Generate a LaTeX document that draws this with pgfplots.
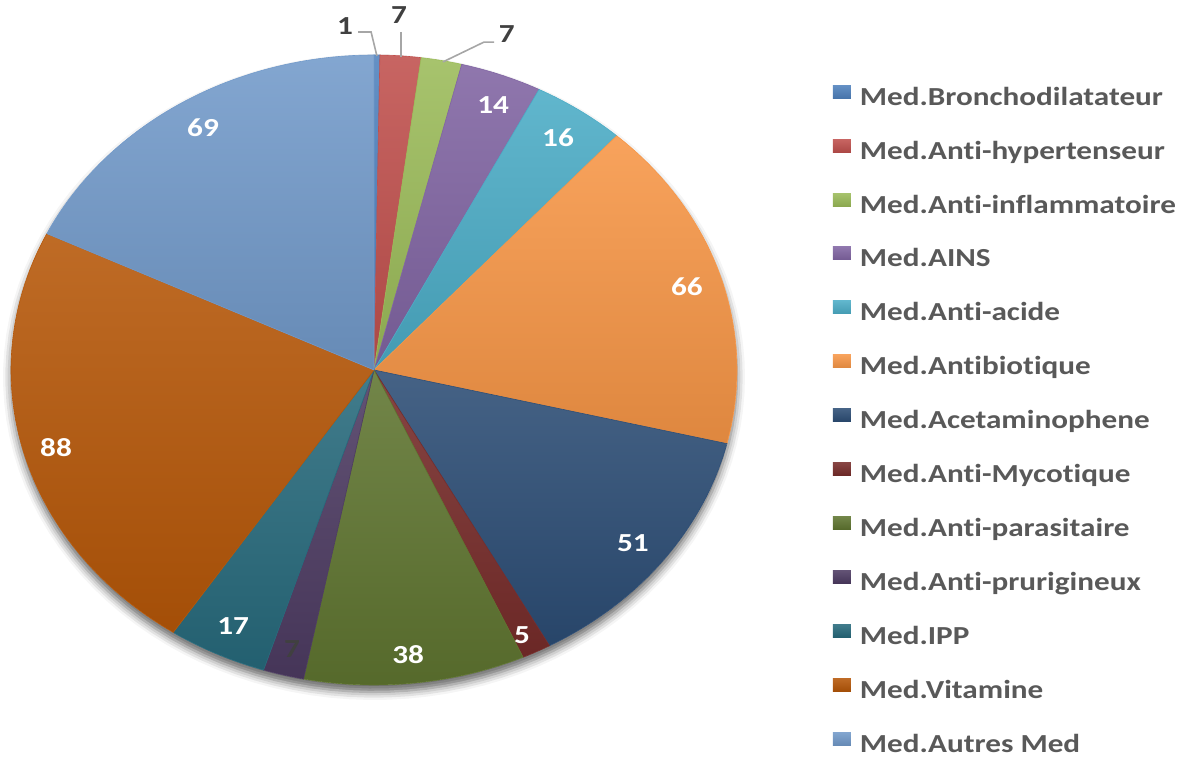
\documentclass[border=0pt]{standalone}
\usepackage{fontspec}
\setmainfont{Carlito}[FakeStretch=1.2, Ligatures={NoCommon}]
\usepackage{pgfplots}
\usepackage{pgfplotstable}
\pgfplotsset{compat=1.18}
\usetikzlibrary{shadows.blur}

\definecolor{c1}{HTML}{4F81BD}
\definecolor{c2}{HTML}{C0504D}
\definecolor{c3}{HTML}{9BBB59}
\definecolor{c4}{HTML}{8064A2}
\definecolor{c5}{HTML}{4BACC6}
\definecolor{c6}{HTML}{F79646}
\definecolor{c7}{HTML}{2C4D75}
\definecolor{c8}{HTML}{772C2A}
\definecolor{c9}{HTML}{5F7530}
\definecolor{c10}{HTML}{4D3B62}
\definecolor{c11}{HTML}{276A7C}
\definecolor{c12}{HTML}{B65708}
\definecolor{c13}{HTML}{729ACA}
\definecolor{legendgray}{HTML}{595959}
\definecolor{lblgray}{HTML}{404040}
\definecolor{leadergray}{HTML}{A6A6A6}

\pgfplotstableread[col sep=comma]{
name,value
Med.Bronchodilatateur,1
Med.Anti-hypertenseur,7
Med.Anti-inflammatoire,7
Med.AINS,14
Med.Anti-acide,16
Med.Antibiotique,66
Med.Acetaminophene,51
Med.Anti-Mycotique,5
Med.Anti-parasitaire,38
Med.Anti-prurigineux,7
Med.IPP,17
Med.Vitamine,88
Med.Autres Med,69
}\medtable
\newcommand\total{386}

\pgfplotsset{
  slice/.style={draw=#1, line width=0.3pt, top color=#1!88!white, bottom color=#1!90!black, samples=60},
}
\tikzset{
  lbl/.style={font=\fontsize{13}{15}\selectfont\bfseries, text=white, inner sep=0pt},
  outlbl/.style={font=\fontsize{13}{15}\selectfont\bfseries, text=lblgray, inner sep=0pt},
}

\begin{document}
\begin{tikzpicture}
\path[use as bounding box] (0,0) rectangle (595pt,379.5pt);
\begin{axis}[
  at={(187pt,194.5pt)}, anchor=center,
  width=363pt, height=315pt, scale only axis,
  xmin=-1, xmax=1, ymin=-1, ymax=1,
  hide axis, clip=false,
  legend cell align=left,
  legend image code/.code={\fill[#1,draw=none] (0pt,0.5pt) rectangle (9pt,7pt);},
  legend style={at={(1.132,0.952)}, anchor=north west, draw=none, fill=none,
    inner sep=0pt, outer sep=0pt,
    font=\fontsize{13}{15}\selectfont\bfseries, text=legendgray,
    row sep=13.95pt, column sep=4.5pt,
    nodes={inner sep=0pt, text height=9pt, text depth=3pt}},
]
% soft shadow under the pie
\addplot[forget plot, draw=none, fill=white, domain=0:360, samples=120,
  blur shadow={shadow xshift=0pt, shadow yshift=-3.5pt, shadow blur radius=4pt, shadow opacity=60}]
  ({cos(x)},{sin(x)}) -- cycle;

\pgfmathsetmacro\cumsum{0}
\pgfplotsforeachungrouped \r in {0,...,12}{%
  \pgfplotstablegetelem{\r}{value}\of\medtable \let\sval\pgfplotsretval
  \pgfplotstablegetelem{\r}{name}\of\medtable \let\sname\pgfplotsretval
  \pgfmathsetmacro\angA{90-\cumsum/\total*360}%
  \pgfmathsetmacro\cumsum{\cumsum+\sval}%
  \pgfmathsetmacro\angB{90-\cumsum/\total*360}%
  \pgfmathtruncatemacro\k{\r+1}%
  \edef\tmp{\noexpand\addplot[slice=c\k, domain=\angB:\angA] ({cos(x)},{sin(x)}) -- (0,0) -- cycle; \noexpand\addlegendentry{\sname}}%
  \tmp
}

% data labels
\node[lbl] at (axis cs:-0.471,0.769) {69};
\node[lbl] at (axis cs:-0.876,-0.247) {88};
\node[lbl] at (axis cs:-0.388,-0.813) {17};
\node[outlbl] at (axis cs:-0.226,-0.886) {7};
\node[lbl] at (axis cs:0.094,-0.902) {38};
\node[lbl] at (axis cs:0.408,-0.842) {5};
\node[lbl] at (axis cs:0.713,-0.551) {51};
\node[lbl] at (axis cs:0.862,0.263) {66};
\node[lbl] at (axis cs:0.507,0.737) {16};
\node[lbl] at (axis cs:0.328,0.842) {14};
% outside labels with leader lines
\draw[leadergray, line width=0.8pt] (axis cs:-0.044,1.073) -- (axis cs:-0.008,1.073) -- (axis cs:0.008,0.997);
\draw[leadergray, line width=0.8pt] (axis cs:0.074,1.073) -- (axis cs:0.074,0.994);
\draw[leadergray, line width=0.8pt] (axis cs:0.331,1.041) -- (axis cs:0.303,1.041) -- (axis cs:0.190,0.978);
\node[outlbl] at (axis cs:-0.080,1.092) {1};
\node[outlbl] at (axis cs:0.069,1.127) {7};
\node[outlbl] at (axis cs:0.366,1.066) {7};
\end{axis}
\end{tikzpicture}
\end{document}
